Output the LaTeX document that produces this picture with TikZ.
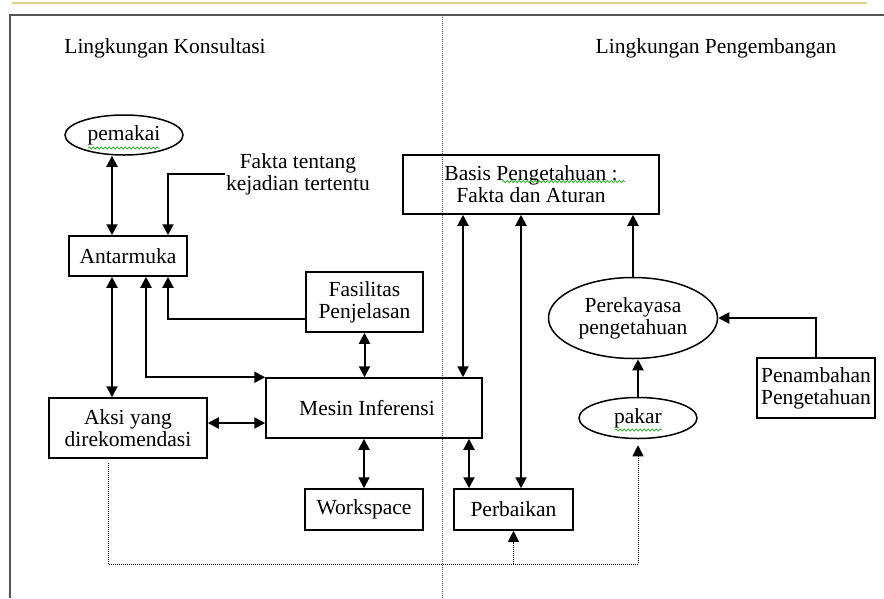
\documentclass[tikz,border=0pt]{standalone}
\usepackage{fontspec}
\setmainfont{Liberation Serif}
\usepackage{tikz}
\usetikzlibrary{arrows.meta,positioning,shapes.geometric,calc,decorations.pathmorphing}
\definecolor{khaki}{HTML}{DDD48A}
\definecolor{framegray}{HTML}{555555}
\definecolor{spellgreen}{HTML}{3DAA3D}

\begin{document}
\begin{tikzpicture}[x=1pt,y=-1pt, every node/.style={align=center,font=\fontsize{21.5}{22}\selectfont,inner sep=1pt},
  box/.style={draw,line width=1.5pt,minimum width=#1},
  oval/.style={draw,ellipse,line width=1.5pt,inner sep=0pt},
  link/.style={line width=2pt,{Triangle[length=11pt,width=11pt]}-{Triangle[length=11pt,width=11pt]}},
  feed/.style={line width=2pt,-{Triangle[length=11pt,width=11pt]}},
  hint/.style={densely dotted,line width=1pt,-{Triangle[length=11pt,width=11pt]}},
  squiggle/.style={spellgreen,line width=0.8pt,decorate,decoration={snake,amplitude=1pt,segment length=4pt}}]
\useasboundingbox (0,0) rectangle (884,598);
\draw[khaki,line width=2pt] (12,3) -- (867,3);
\draw[framegray,line width=2pt] (10,598) -- (10,15) -- (884,15);
\draw[framegray,densely dotted,line width=1pt] (442,15) -- (442,598);
\node (konsultasi) at (165,48) {Lingkungan Konsultasi};
\node (pengembangan) at (716,48) {Lingkungan Pengembangan};
% sisi konsultasi
\node[oval,minimum width=118pt,minimum height=40pt] (pemakai) at (124,135) {pemakai};
\node[box=118pt,minimum height=40pt] (antarmuka) at (128,256) {Antarmuka};
\node (fakta) at (298,174) {Fakta tentang\\kejadian tertentu};
\node[box=117pt,minimum height=60pt] (fasilitas) at (364.5,302) {Fasilitas\\Penjelasan};
\node[box=158pt,minimum height=60pt] (aksi) at (128,428) {Aksi yang\\direkomendasi};
\node[box=216pt,minimum height=60pt] (mesin) at (374,408) {Mesin Inferensi\hspace{14pt}};
\node[box=118pt,minimum height=41pt] (workspace) at (364,509.5) {Workspace};
% sisi pengembangan
\node[box=256pt,minimum height=59pt] (basis) at (531,184.5) {Basis Pengetahuan :\\Fakta dan Aturan};
\node[oval,minimum width=169pt,minimum height=81pt] (perekayasa) at (633,318) {Perekayasa\\pengetahuan};
\node[oval,minimum width=118pt,minimum height=41pt] (pakar) at (638,418) {pakar};
\node[box=118pt,minimum height=60pt] (penambahan) at (816,388) {Penambahan\\Pengetahuan};
\node[box=119pt,minimum height=41pt] (perbaikan) at (513.5,509.5) {Perbaikan};
\draw[squiggle] ($(pemakai.center)+(-36,13)$) -- ++(72,0);
\draw[squiggle] ($(basis.center)+(-29,-3)$) -- ++(123,0);
\draw[squiggle] ($(pakar.center)+(-23,12)$) -- ++(47,0);
% panah
\draw[link] (pemakai.south -| 112,0) -- (antarmuka.north -| 112,0);
\draw[feed] (fakta.west) -| (antarmuka.north -| 168,0);
\draw[feed] (fasilitas.west |- 0,319) -| (antarmuka.south -| 168,0);
\draw[link] (antarmuka.south -| 112,0) -- (aksi.north -| 112,0);
\draw[link] (antarmuka.south -| 146,0) |- (mesin.north west);
\draw[link] (aksi.east |- 0,423) -- (mesin.west |- 0,423);
\draw[link] (fasilitas.south) -- (fasilitas.south |- mesin.north);
\draw[link] (mesin.south -| workspace.north) -- (workspace.north);
\draw[link] (basis.south -| 463,0) -- (mesin.north -| 463,0);
\draw[link] (mesin.south -| 469,0) -- (perbaikan.north -| 469,0);
\draw[link] (basis.south -| 521,0) -- (perbaikan.north -| 521,0);
\draw[feed] (perekayasa.north) -- (basis.south -| perekayasa.north);
\draw[feed] (pakar.north) -- (pakar.north |- perekayasa.south);
\draw[feed] (penambahan.north) |- (perekayasa.east);
\draw[hint,shorten <=4pt,shorten >=6pt] (aksi.south -| 108,0) |- (0,564 -| pakar.south) -- (pakar.south);
\draw[hint] (perbaikan.south |- 0,564) -- (perbaikan.south);
\end{tikzpicture}
\end{document}
